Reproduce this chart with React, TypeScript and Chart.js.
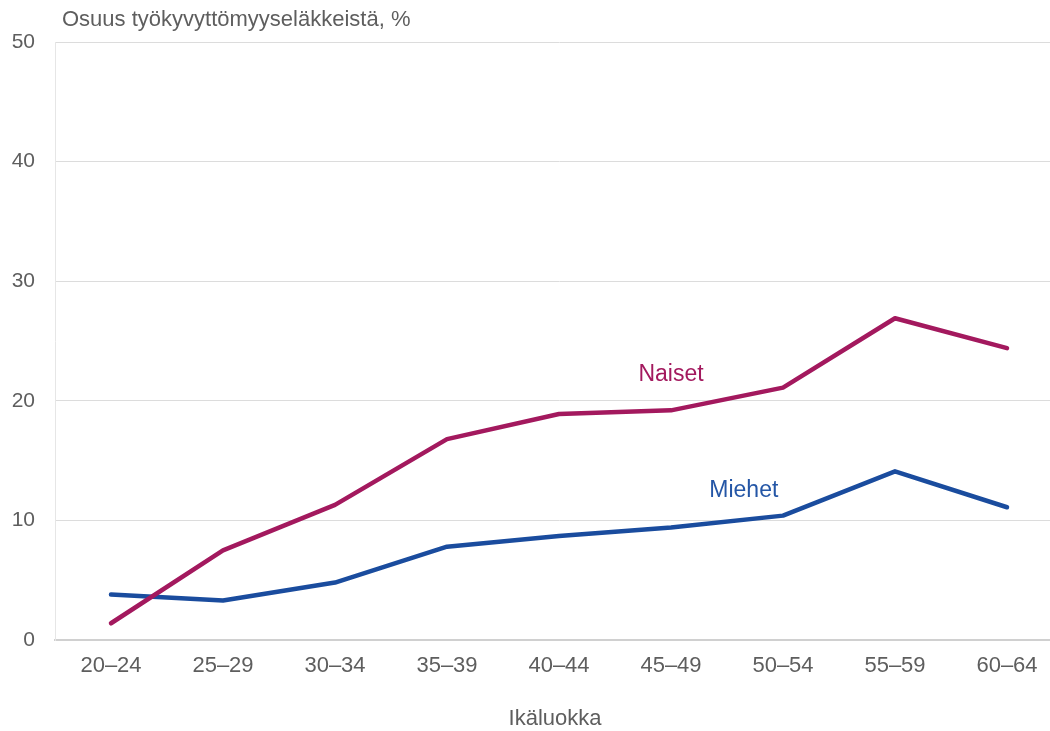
import React, { useEffect, useRef } from "react";
import { Chart, registerables } from "chart.js";

Chart.register(...registerables);

const categories = ["20–24", "25–29", "30–34", "35–39", "40–44", "45–49", "50–54", "55–59", "60–64"];
const naiset = [1.4, 7.5, 11.3, 16.8, 18.9, 19.2, 21.1, 26.9, 24.4];
const miehet = [3.8, 3.3, 4.8, 7.8, 8.7, 9.4, 10.4, 14.1, 11.1];
const yTicks = [0, 10, 20, 30, 40, 50];
const chartTitle = "Osuus työkyvyttömyyseläkkeistä, %";
const xTitle = "Ikäluokka";

const NAISET_COLOR = "#a3195e";
const MIEHET_COLOR = "#1a4c9e";
const TEXT_COLOR = "#5e5e5e";
const FONT = "'Liberation Sans', Arial, sans-serif";

export default function App() {
  const ref = useRef<HTMLCanvasElement | null>(null);

  useEffect(() => {
    if (!ref.current) return;
    const textPlugin = {
      id: "texts",
      afterDatasetsDraw(chart: any) {
        const { ctx, chartArea, scales } = chart;
        ctx.save();
        ctx.textBaseline = "middle";
        ctx.font = `22px ${FONT}`;
        ctx.fillStyle = TEXT_COLOR;
        ctx.textAlign = "left";
        ctx.fillText(chartTitle, chartArea.left + 7, 20);
        ctx.textAlign = "center";
        ctx.fillText(xTitle, 555, 719);
        ctx.font = `23px ${FONT}`;
        ctx.fillStyle = NAISET_COLOR;
        ctx.fillText("Naiset", scales.x.getPixelForValue(5.0), scales.y.getPixelForValue(22.2));
        ctx.fillStyle = "#2456a6";
        ctx.fillText("Miehet", scales.x.getPixelForValue(5.65), scales.y.getPixelForValue(12.45));
        ctx.restore();
      },
    };

    const chart = new Chart(ref.current, {
      type: "line",
      data: {
        labels: categories,
        datasets: [
          {
            label: "Naiset",
            data: naiset,
            borderColor: NAISET_COLOR,
            borderWidth: 4.5,
            pointRadius: 0,
            tension: 0,
            borderJoinStyle: "round",
            borderCapStyle: "round",
          },
          {
            label: "Miehet",
            data: miehet,
            borderColor: MIEHET_COLOR,
            borderWidth: 4.5,
            pointRadius: 0,
            tension: 0,
            borderJoinStyle: "round",
            borderCapStyle: "round",
          },
        ],
      },
      options: {
        animation: false,
        responsive: false,
        maintainAspectRatio: false,
        layout: { padding: { top: 42, right: 7, left: 0, bottom: 0 } },
        plugins: {
          legend: { display: false },
          tooltip: { enabled: false },
          title: { display: false },
        },
        scales: {
          x: {
            type: "category",
            offset: true,
            grid: { display: false, drawTicks: false },
            border: { display: true, color: "#d0d0d0", width: 2 },
            ticks: {
              color: TEXT_COLOR,
              font: { family: FONT, size: 22 },
              padding: 13,
              maxRotation: 0,
              autoSkip: false,
            },
            afterFit(scale: any) {
              scale.height = 91;
            },
          },
          y: {
            min: 0,
            max: 50,
            afterBuildTicks(scale: any) {
              scale.ticks = yTicks.map((v) => ({ value: v }));
            },
            grid: { color: "#dcdcdc", lineWidth: 1, drawTicks: false },
            border: { display: true, color: "#e6e6e6", width: 1 },
            ticks: {
              color: TEXT_COLOR,
              font: { family: FONT, size: 21 },
              padding: 20,
              crossAlign: "near",
            },
            afterFit(scale: any) {
              scale.width = 55;
            },
          },
        },
      },
      plugins: [textPlugin],
    } as any);
    return () => chart.destroy();
  }, []);

  return (
    <div style={{ position: "absolute", left: 0, top: 0, width: 1050, height: 731, overflow: "hidden", background: "#fff" }}>
      <canvas ref={ref} width={1070} height={731} style={{ display: "block", width: 1070, height: 731 }} />
    </div>
  );
}
